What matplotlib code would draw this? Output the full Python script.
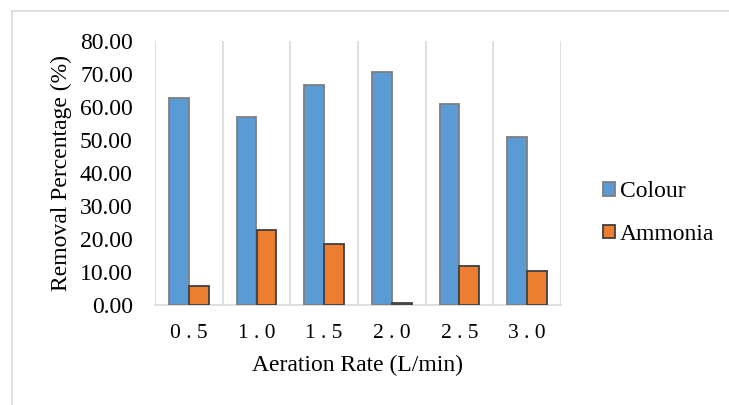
import numpy as np
import matplotlib.pyplot as plt
from matplotlib.lines import Line2D
from matplotlib.patches import Patch

plt.rcParams['font.family'] = ['Liberation Serif', 'DejaVu Serif']

# data
rates = ["0 . 5", "1 . 0", "1 . 5", "2 . 0", "2 . 5", "3 . 0"]
colour = [62.6, 56.9, 66.7, 70.7, 60.8, 50.8]
ammonia = [5.8, 22.8, 18.4, 0.5, 11.9, 10.3]

fig = plt.figure(figsize=(7.29, 4.05), dpi=100)
ax = fig.add_axes([155/729, 100/405, 406/729, 264/405])

x = np.arange(len(rates))
w = 0.295
ax.bar(x - w/2, colour, w, color='#5B9BD5', edgecolor='#7f7f7f', linewidth=1.3, label='Colour', zorder=3)
ax.bar(x + w/2, ammonia, w, color='#ED7D31', edgecolor='#404040', linewidth=1.3, label='Ammonia', zorder=3)

ax.set_xlim(-0.5, len(rates) - 0.5)
ax.set_ylim(0, 80)
ax.set_yticks(np.arange(0, 81, 10))
ax.set_yticklabels(["%.2f" % v for v in np.arange(0, 81, 10)], fontsize=17)
ax.set_xticks(x)
ax.set_xticklabels(rates, fontsize=15.5)
ax.set_xticks(np.arange(-0.5, len(rates), 1), minor=True)
ax.tick_params(axis='x', which='both', length=0, pad=14)
ax.tick_params(axis='y', length=0, pad=16)
ax.grid(axis='x', which='minor', color='#d9d9d9', linewidth=1.2, zorder=0)
for s in ['top', 'right', 'left']:
    ax.spines[s].set_visible(False)
ax.spines['bottom'].set_color('#d9d9d9')
ax.spines['bottom'].set_linewidth(1.2)

ax.set_ylabel("Removal Percentage (%)", fontsize=17, labelpad=6)
ax.set_xlabel("Aeration Rate (L/min)", fontsize=17, labelpad=8)

handles = [Patch(facecolor='#5B9BD5', edgecolor='#7f7f7f', linewidth=1.3, label='Colour'),
           Patch(facecolor='#ED7D31', edgecolor='#404040', linewidth=1.3, label='Ammonia')]
fig.legend(handles=handles, loc='center left', bbox_to_anchor=(582/729, 1 - 213/405),
           frameon=False, fontsize=17, handlelength=0.5, handleheight=0.5,
           handletextpad=0.2, labelspacing=0.9)

# chart border (partially visible)
fig.add_artist(Line2D([12/729, 1], [1 - 11/405, 1 - 11/405], color='#d9d9d9', linewidth=1.2))
fig.add_artist(Line2D([12/729, 12/729], [0, 1 - 11/405], color='#d9d9d9', linewidth=1.2))

fig.savefig("out.png", dpi=100)
